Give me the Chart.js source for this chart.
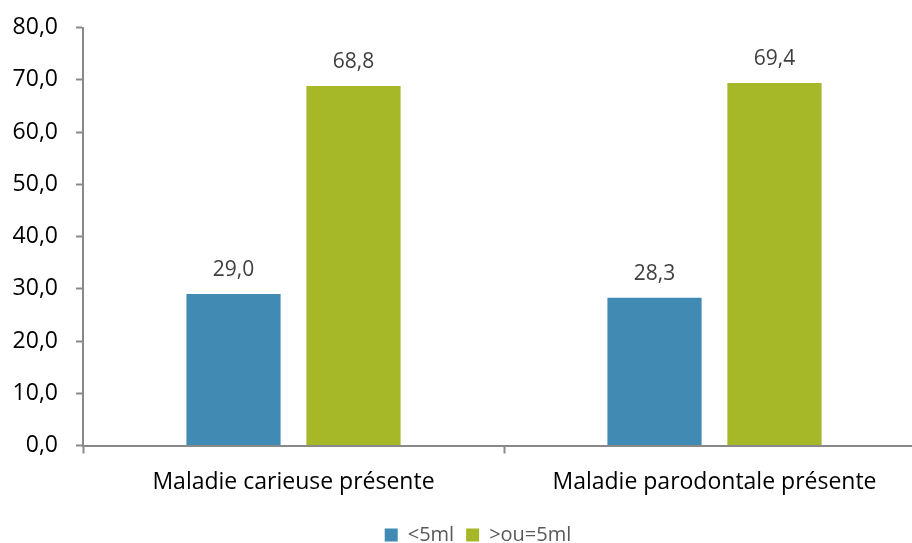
<!DOCTYPE html>
<html lang="fr">
<head>
<meta charset="UTF-8">
<title>Graphique</title>
<script src="https://cdn.jsdelivr.net/npm/chart.js"></script>
<style>
    html, body { margin: 0; padding: 0; background: #fff; overflow: hidden; }
    #boite { position: relative; width: 956px; height: 555px; }
</style>
</head>
<body>
<div id="boite">
    <canvas id="barres" width="956" height="555"></canvas>
</div>

<script>
    // données
    const categories = ['Maladie carieuse présente', 'Maladie parodontale présente'];
    const moinsDe5 = [29.0, 28.3];
    const plusDe5 = [68.8, 69.4];
    const nomsSeries = ['<5ml', '>ou=5ml'];

    function virgule(v) {
        return Number(v).toFixed(1).replace('.', ',');
    }

    // étiquettes au-dessus des barres
    const etiquettes = {
        id: 'etiquettes',
        afterDatasetsDraw(chart) {
            const ctx = chart.ctx;
            ctx.save();
            ctx.font = '21px "Open Sans"';
            ctx.fillStyle = '#404040';
            ctx.textAlign = 'center';
            ctx.textBaseline = 'alphabetic';
            chart.data.datasets.forEach(function (ds, i) {
                chart.getDatasetMeta(i).data.forEach(function (bar, j) {
                    ctx.fillText(virgule(ds.data[j]), bar.x, bar.y - 18);
                });
            });
            ctx.restore();
        }
    };

    // légende centrée sur toute la largeur (comme dans Excel)
    const legendeCentree = {
        id: 'legendeCentree',
        afterLayout(chart) {
            chart.legend.right = chart.width;
            chart.legend.width = chart.width - chart.legend.left;
        }
    };

    const ctx = document.getElementById('barres').getContext('2d');
    new Chart(ctx, {
        type: 'bar',
        data: {
            labels: categories,
            datasets: [
                {
                    label: nomsSeries[0],
                    data: moinsDe5,
                    backgroundColor: '#418AB3'
                },
                {
                    label: nomsSeries[1],
                    data: plusDe5,
                    backgroundColor: '#A6B727'
                }
            ]
        },
        options: {
            responsive: false,
            animation: false,
            devicePixelRatio: 1,
            layout: { padding: { top: 27.5, right: 31, left: 0, bottom: 0 } },
            datasets: {
                bar: { categoryPercentage: 0.57, barPercentage: 0.785 }
            },
            plugins: {
                legend: {
                    position: 'bottom',
                    labels: {
                        boxWidth: 13,
                        boxHeight: 13,
                        padding: 12,
                        color: '#595959',
                        font: { family: 'Open Sans', size: 20 }
                    }
                },
                tooltip: { enabled: false }
            },
            scales: {
                y: {
                    min: 0,
                    max: 80,
                    ticks: {
                        stepSize: 10,
                        color: '#000',
                        padding: 18,
                        font: { family: 'Open Sans', size: 23 },
                        callback: function (v) { return virgule(v); }
                    },
                    grid: { display: true, drawOnChartArea: false, tickLength: 7, tickColor: '#898989', tickWidth: 2 },
                    border: { color: '#898989', width: 2 },
                    afterFit: function (s) {
                        s.width = 83;
                        s.paddingTop = 0;
                        s.paddingBottom = 0;
                    }
                },
                x: {
                    ticks: {
                        color: '#000',
                        padding: 15,
                        font: { family: 'Open Sans', size: 23 }
                    },
                    grid: { display: true, drawOnChartArea: false, offset: true, tickLength: 8, tickColor: '#898989', tickWidth: 2 },
                    border: { color: '#898989', width: 2 },
                    afterFit: function (s) { s.height = 67.5; }
                }
            }
        },
        plugins: [etiquettes, legendeCentree]
    });
</script>
</body>
</html>
